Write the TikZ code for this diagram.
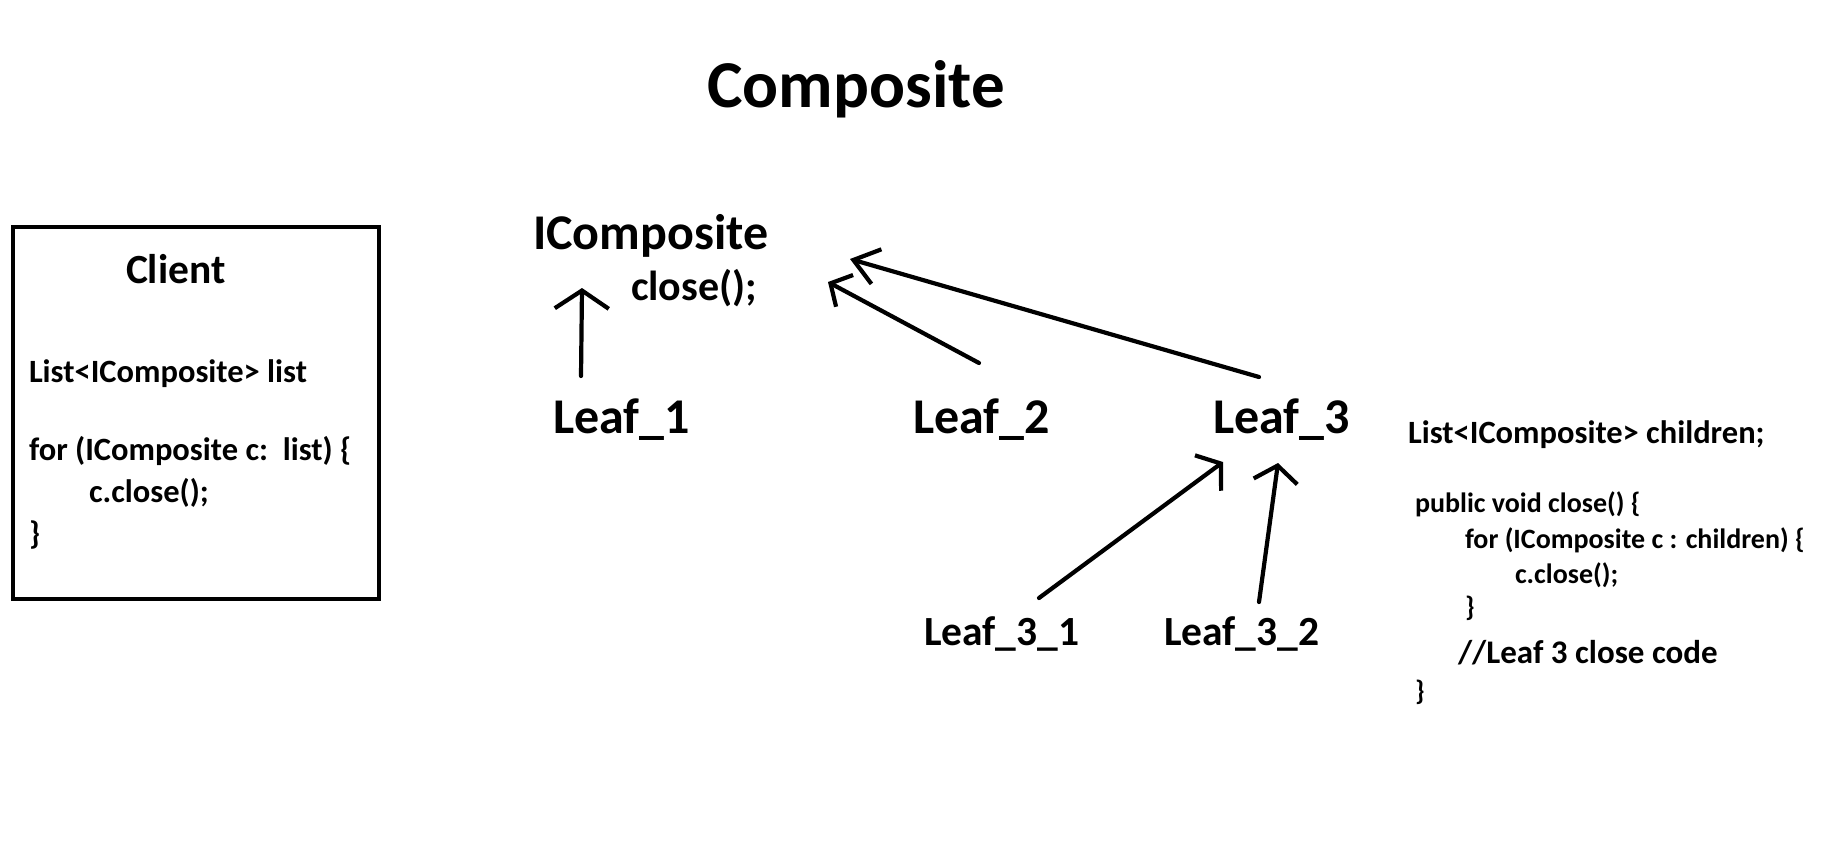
\documentclass[tikz,border=0pt]{standalone}
\usepackage{fontspec}
\setmainfont{Carlito}
\usetikzlibrary{arrows.meta}
\newcommand\myfs[1]{\fontsize{#1}{#1}\selectfont\bfseries}
\tikzset{
  txt/.style={inner sep=0pt, outer sep=0pt, anchor=base west, font=\myfs{#1}},
  link/.style={line width=4.2pt, line cap=round, line join=round},
  hd/.style args={#1/#2}{-{Straight Barb[length=#1pt,width=#2pt]}}
}
\begin{document}
\begin{tikzpicture}[x=1pt,y=-1pt]
\useasboundingbox (0,0) rectangle (1825,861);
\fill[white] (0,0) rectangle (1825,861);
% title
\node[inner sep=0pt, anchor=base, font=\myfs{67}] (title) at (856,108) {Composite};
% client box
\draw[line width=4.5pt] (13,227) rectangle (379,599);
\node[txt=41.5] (client) at (126,283) {Client};
\node[txt=32.5] (clist) at (29,382) {List<IComposite> list};
\node[txt=32.5] (cfor) at (29,460) {for (IComposite c:\ \ list) \{};
\node[txt=32.5] (ccl) at (89,502) {c.close();};
\node[txt=32.5] (cbr) at (29,544) {\}};
% main nodes
\node[txt=50] (icomp) at (533,249) {IComposite};
\node[txt=42] (close) at (631,300) {close();};
\node[txt=50] (leaf1) at (553,433) {Leaf\_1};
\node[txt=50] (leaf2) at (913,433) {Leaf\_2};
\node[txt=50] (leaf3) at (1213,433) {Leaf\_3};
\node[txt=41.5] (leaf31) at (924,645) {Leaf\_3\_1};
\node[txt=41.5] (leaf32) at (1164,645) {Leaf\_3\_2};
% right code
\node[txt=32.5] (rl) at (1408,443) {List<IComposite> children;};
\node[txt=28] (r1) at (1415,512) {public void close() \{};
\node[txt=28] (r2) at (1465,548) {for (IComposite c : children) \{};
\node[txt=28] (r3) at (1515,583) {c.close();};
\node[txt=28] (r4) at (1465,616) {\}};
\node[txt=33] (r5) at (1458,663) {//Leaf 3 close code};
\node[txt=28] (r6) at (1415,700) {\}};
% arrows
\draw[link, hd=18/54] ([shift={(28,-57)}]leaf1.base west) -- ([shift={(49,39)}]icomp.base west);
\draw[link, hd=16/36] ([shift={(66,-70)}]leaf2.base west) -- ([shift={(197,-18)}]close.base west);
\draw[link, hd=24/36] ([shift={(46,-56)}]leaf3.base west) -- ([shift={(317,10)}]icomp.base west);
\draw[link, hd=16/44] ([shift={(115,-47)}]leaf31.base west) -- ([shift={(10,29)}]leaf3.base west);
\draw[link, hd=16/44] ([shift={(95,-43)}]leaf32.base west) -- ([shift={(65,30)}]leaf3.base west);
\end{tikzpicture}
\end{document}
